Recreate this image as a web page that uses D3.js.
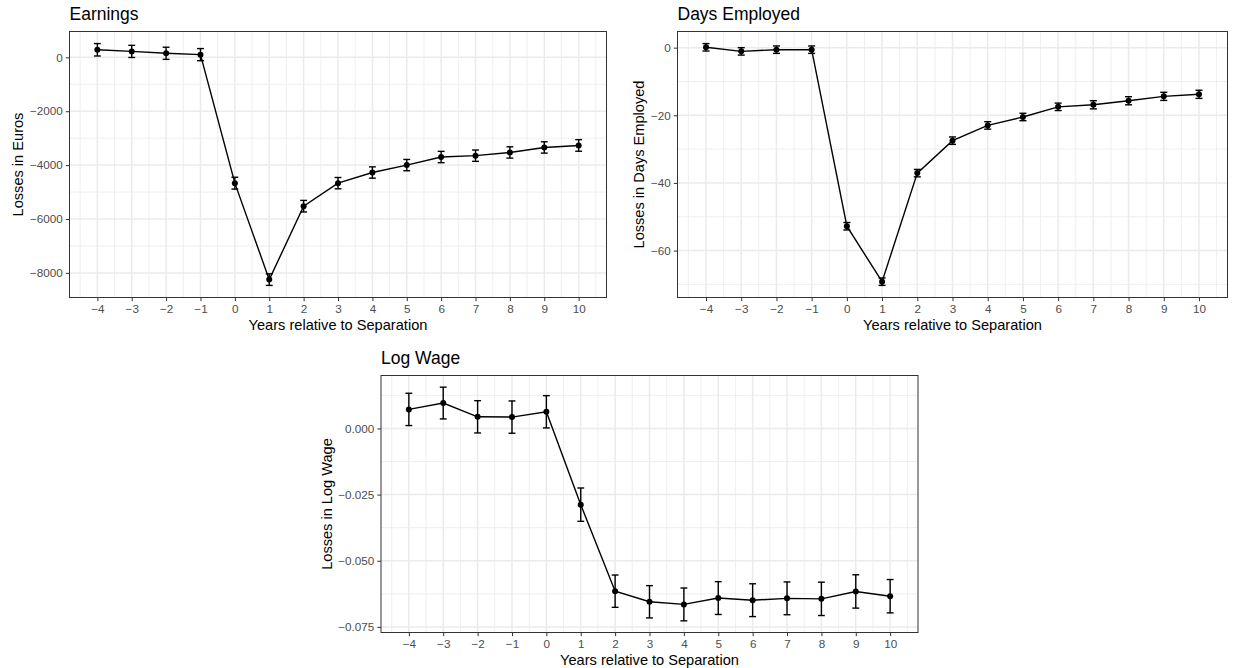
<!DOCTYPE html>
<html>
<head>
<meta charset="utf-8">
<script src="https://cdnjs.cloudflare.com/ajax/libs/d3/7.8.5/d3.min.js"></script>
<style>
  body { margin: 0; background: #fff; }
  text { font-family: "Liberation Sans", Arial, sans-serif; }
</style>
</head>
<body>
<script>
var w = 1233;
var h = 668;

// years relative to separation
var years = [-4, -3, -2, -1, 0, 1, 2, 3, 4, 5, 6, 7, 8, 9, 10];

// earnings losses (euros) and half-width of the confidence band
var earnings   = [280, 220, 150, 100, -4670, -8250, -5525, -4670, -4275, -4000, -3700, -3650, -3530, -3345, -3270];
var earningsCI = [230, 225, 225, 225, 220, 215, 215, 210, 210, 210, 210, 210, 210, 210, 215];
var earningsTicks = [0, -2000, -4000, -6000, -8000];

// days employed losses
var days   = [0.1, -1.1, -0.6, -0.6, -52.8, -69.2, -37.1, -27.5, -23.0, -20.5, -17.5, -16.9, -15.7, -14.4, -13.8];
var daysCI = [1.1, 1.1, 1.1, 1.1, 1.1, 1.1, 1.1, 1.1, 1.1, 1.1, 1.1, 1.2, 1.2, 1.2, 1.2];
var daysTicks = [0, -20, -40, -60];

// log wage losses
var logWage   = [0.0072, 0.0096, 0.0044, 0.0043, 0.0063, -0.0288, -0.0615, -0.0655, -0.0665, -0.0641, -0.0649, -0.0642, -0.0644, -0.0616, -0.0634];
var logWageCI = [0.0061, 0.0060, 0.0061, 0.0061, 0.0061, 0.0063, 0.0061, 0.0061, 0.0062, 0.0062, 0.0062, 0.0062, 0.0063, 0.0063, 0.0063];
var logWageTicks = [0, -0.025, -0.05, -0.075];

var svg = d3.select("body")
            .append("svg")
            .attr("width", w)
            .attr("height", h);

function drawPanel(p) {
    var data = years.map(function(d, i) {
        return { x: d, y: p.values[i], ci: p.ci[i] };
    });

    // ggplot style range: error bar width 0.2 widens x, then 5% expansion
    var xlo = d3.min(years) - 0.1, xhi = d3.max(years) + 0.1;
    var xpad = (xhi - xlo) * 0.05;
    var xScale = d3.scaleLinear()
                   .domain([xlo - xpad, xhi + xpad])
                   .range([p.left, p.right]);

    var ylo = d3.min(data, function(d) { return d.y - d.ci; });
    var yhi = d3.max(data, function(d) { return d.y + d.ci; });
    var ypad = (yhi - ylo) * 0.05;
    var yScale = d3.scaleLinear()
                   .domain([ylo - ypad, yhi + ypad])
                   .range([p.bottom, p.top]);

    var g = svg.append("g");

    // minor grid
    var step = p.ticks[0] - p.ticks[1];
    var yMinor = [];
    for (var k = 0; k <= p.ticks.length; k++) {
        var v = p.ticks[0] + step / 2 - k * step;
        if (v > yScale.domain()[0] && v < yScale.domain()[1]) yMinor.push(v);
    }
    var xMinor = years.map(function(d) { return d - 0.5; }).concat([d3.max(years) + 0.5]);

    g.selectAll(".ymin").data(yMinor).enter().append("line")
        .attr("x1", p.left).attr("x2", p.right)
        .attr("y1", function(d) { return yScale(d); })
        .attr("y2", function(d) { return yScale(d); })
        .attr("stroke", "#EBEBEB").attr("stroke-width", 0.8);
    g.selectAll(".xmin").data(xMinor).enter().append("line")
        .attr("y1", p.top).attr("y2", p.bottom)
        .attr("x1", function(d) { return xScale(d); })
        .attr("x2", function(d) { return xScale(d); })
        .attr("stroke", "#EBEBEB").attr("stroke-width", 0.8);

    // major grid
    g.selectAll(".ymaj").data(p.ticks).enter().append("line")
        .attr("x1", p.left).attr("x2", p.right)
        .attr("y1", function(d) { return yScale(d); })
        .attr("y2", function(d) { return yScale(d); })
        .attr("stroke", "#EBEBEB").attr("stroke-width", 1.5);
    g.selectAll(".xmaj").data(years).enter().append("line")
        .attr("y1", p.top).attr("y2", p.bottom)
        .attr("x1", function(d) { return xScale(d); })
        .attr("x2", function(d) { return xScale(d); })
        .attr("stroke", "#EBEBEB").attr("stroke-width", 1.5);

    // axes
    var xAxis = d3.axisBottom(xScale).tickValues(years).tickSize(3.7).tickPadding(3)
                  .tickFormat(d3.format("d"));
    var yAxis = d3.axisLeft(yScale).tickValues(p.ticks).tickSize(3.7).tickPadding(3)
                  .tickFormat(p.fmt);

    var gx = g.append("g")
        .attr("transform", "translate(0," + p.bottom + ")")
        .call(xAxis);
    var gy = g.append("g")
        .attr("transform", "translate(" + p.left + ",0)")
        .call(yAxis);
    [gx, gy].forEach(function(a) {
        a.select(".domain").remove();
        a.selectAll(".tick line").attr("stroke", "#333333").attr("stroke-width", 1);
        a.selectAll(".tick text").attr("fill", "#4D4D4D").style("font-size", "11.7px");
    });

    // error bars
    var cap = (xScale(0.1) - xScale(0));
    var eb = g.selectAll(".eb").data(data).enter().append("g");
    eb.append("line")
        .attr("x1", function(d) { return xScale(d.x); })
        .attr("x2", function(d) { return xScale(d.x); })
        .attr("y1", function(d) { return yScale(d.y - d.ci); })
        .attr("y2", function(d) { return yScale(d.y + d.ci); });
    eb.append("line")
        .attr("x1", function(d) { return xScale(d.x) - cap; })
        .attr("x2", function(d) { return xScale(d.x) + cap; })
        .attr("y1", function(d) { return yScale(d.y + d.ci); })
        .attr("y2", function(d) { return yScale(d.y + d.ci); });
    eb.append("line")
        .attr("x1", function(d) { return xScale(d.x) - cap; })
        .attr("x2", function(d) { return xScale(d.x) + cap; })
        .attr("y1", function(d) { return yScale(d.y - d.ci); })
        .attr("y2", function(d) { return yScale(d.y - d.ci); });
    eb.selectAll("line").attr("stroke", "#000").attr("stroke-width", 1.4);

    // connecting line
    var line = d3.line()
        .x(function(d) { return xScale(d.x); })
        .y(function(d) { return yScale(d.y); });
    g.append("path")
        .datum(data)
        .attr("d", line)
        .attr("fill", "none")
        .attr("stroke", "#000")
        .attr("stroke-width", 1.4);

    g.selectAll("circle")
        .data(data)
        .enter()
        .append("circle")
        .attr("cx", function(d) { return xScale(d.x); })
        .attr("cy", function(d) { return yScale(d.y); })
        .attr("r", 3)
        .attr("fill", "#000");

    // panel border
    g.append("rect")
        .attr("x", p.left).attr("y", p.top)
        .attr("width", p.right - p.left).attr("height", p.bottom - p.top)
        .attr("fill", "none").attr("stroke", "#333333").attr("stroke-width", 1);

    // titles
    g.append("text")
        .attr("x", p.left)
        .attr("y", p.top - 12)
        .style("font-size", "17.5px")
        .attr("fill", "#000")
        .text(p.title);
    g.append("text")
        .attr("x", (p.left + p.right) / 2)
        .attr("y", p.bottom + 32)
        .attr("text-anchor", "middle")
        .style("font-size", "14.6px")
        .attr("fill", "#000")
        .text("Years relative to Separation");
    g.append("text")
        .attr("transform", "translate(" + p.ytitleX + "," + ((p.top + p.bottom) / 2) + ") rotate(-90)")
        .attr("text-anchor", "middle")
        .style("font-size", "14.6px")
        .attr("fill", "#000")
        .text(p.ylabel);
}

drawPanel({
    title: "Earnings", ylabel: "Losses in Euros",
    values: earnings, ci: earningsCI, ticks: earningsTicks, fmt: d3.format("d"),
    left: 69.5, right: 606.5, top: 31.5, bottom: 297.5, ytitleX: 23
});

drawPanel({
    title: "Days Employed", ylabel: "Losses in Days Employed",
    values: days, ci: daysCI, ticks: daysTicks, fmt: d3.format("d"),
    left: 677.5, right: 1227.5, top: 31.5, bottom: 297.5, ytitleX: 644
});

drawPanel({
    title: "Log Wage", ylabel: "Losses in Log Wage",
    values: logWage, ci: logWageCI, ticks: logWageTicks, fmt: d3.format(".3f"),
    left: 381, right: 918, top: 375.5, bottom: 632.5, ytitleX: 332
});
</script>
</body>
</html>
